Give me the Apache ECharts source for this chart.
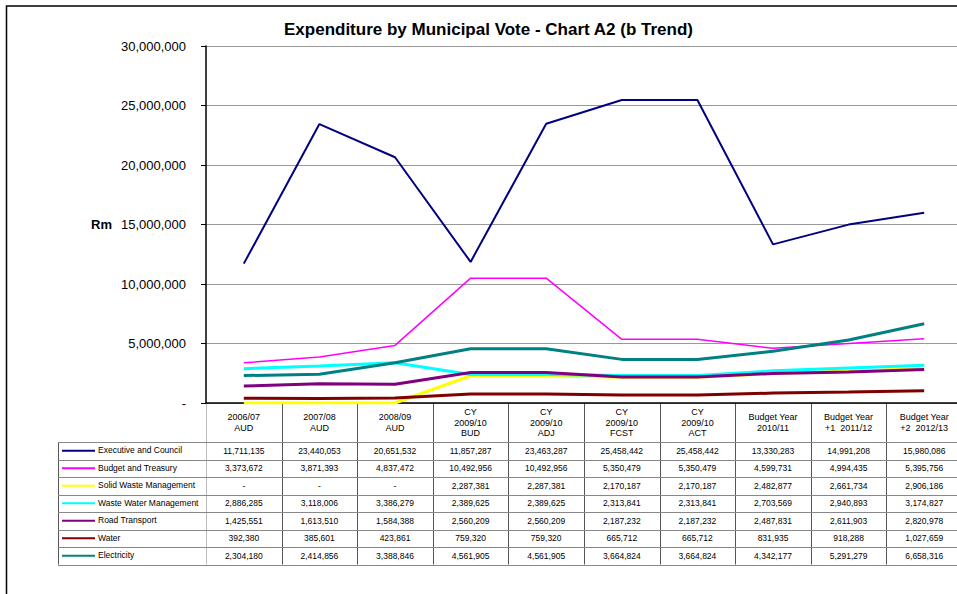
<!DOCTYPE html>
<html>
<head>
<meta charset="utf-8">
<title>Expenditure by Municipal Vote - Chart A2 (b Trend)</title>
<script src="https://cdn.jsdelivr.net/npm/echarts@6.0.0/dist/echarts.min.js"></script>
<style>
  html, body { margin: 0; padding: 0; background: #fff; }
  #chart { width: 957px; height: 594px; }
</style>
</head>
<body>
<div id="chart"></div>
<script>
// categories (also the header row of the data table)
const categories = [
  '2006/07\nAUD', '2007/08\nAUD', '2008/09\nAUD',
  'CY\n2009/10\nBUD', 'CY\n2009/10\nADJ', 'CY\n2009/10\nFCST', 'CY\n2009/10\nACT',
  'Budget Year\n2010/11', 'Budget Year\n+1  2011/12', 'Budget Year\n+2  2012/13'
];

const seriesNames = [
  'Executive and Council', 'Budget and Treasury', 'Solid Waste Management',
  'Waste Water Management', 'Road Transport', 'Water', 'Electricity'
];

const executiveCouncil = [11711135, 23440053, 20651532, 11857287, 23463287, 25458442, 25458442, 13330283, 14991208, 15980086];
const budgetTreasury   = [3373672, 3871393, 4837472, 10492956, 10492956, 5350479, 5350479, 4599731, 4994435, 5395756];
const solidWaste       = [0, 0, 0, 2287381, 2287381, 2170187, 2170187, 2482877, 2661734, 2906186];
const wasteWater       = [2886285, 3118006, 3386279, 2389625, 2389625, 2313841, 2313841, 2703569, 2940893, 3174827];
const roadTransport    = [1425551, 1613510, 1584388, 2560209, 2560209, 2187232, 2187232, 2487831, 2611903, 2820978];
const water            = [392380, 385601, 423861, 759320, 759320, 665712, 665712, 831935, 918288, 1027659];
const electricity      = [2304180, 2414856, 3388846, 4561905, 4561905, 3664824, 3664824, 4342177, 5291279, 6658316];

const allValues = [executiveCouncil, budgetTreasury, solidWaste, wasteWater, roadTransport, water, electricity];

// y axis ticks
const yMin = 0, yMax = 30000000, yStep = 5000000;

const colors = ['#000080', '#FF00FF', '#FFFF00', '#00FFFF', '#800080', '#800000', '#008080'];
const widths = [2, 1.5, 3, 3, 3, 3, 3];
const FONT = 'Liberation Sans, Arial, sans-serif';

function fmt(n) {
  if (n === 0) return '-';
  return String(n).replace(/\B(?=(\d{3})+(?!\d))/g, ',');
}

const chart = echarts.init(document.getElementById('chart'), null, { renderer: 'svg' });

chart.setOption({
  animation: false,
  backgroundColor: '#fff',
  title: {
    text: 'Expenditure by Municipal Vote - Chart A2 (b Trend)',
    left: 284,
    top: 20.5,
    padding: 0,
    textStyle: { fontFamily: FONT, fontSize: 17, fontWeight: 'bold', color: '#000' }
  },
  grid: {
    left: 206, top: 46, width: 756, height: 357,
    containLabel: false,
    outerBoundsMode: 'none'
  },
  xAxis: {
    type: 'category',
    data: categories,
    boundaryGap: true,
    axisLine: { show: true, lineStyle: { color: '#000', width: 1.5 } },
    axisTick: { show: false },
    splitLine: { show: false },
    axisLabel: {
      interval: 0,
      margin: 19.5,
      verticalAlign: 'middle',
      fontFamily: FONT,
      fontSize: 9,
      lineHeight: 10.5,
      color: '#000'
    }
  },
  yAxis: {
    type: 'value',
    min: yMin, max: yMax, interval: yStep,
    name: 'Rm',
    nameLocation: 'middle',
    nameRotate: 0,
    nameGap: 94,
    nameTextStyle: { fontFamily: FONT, fontSize: 13, fontWeight: 'bold', color: '#000' },
    axisLine: { show: true, lineStyle: { color: '#000', width: 1.5 } },
    axisTick: { show: true, length: 5, lineStyle: { color: '#000' } },
    splitLine: { show: true, lineStyle: { color: '#999', width: 1 } },
    axisLabel: {
      margin: 20,
      fontFamily: FONT,
      fontSize: 13,
      color: '#000',
      formatter: v => fmt(v)
    }
  },
  series: seriesNames.map((name, i) => ({
    name: name,
    type: 'line',
    data: allValues[i],
    symbol: 'none',
    color: colors[i],
    lineStyle: { color: colors[i], width: widths[i] },
    emphasis: { disabled: true }
  }))
});

// data table under the plot, columns taken from the x axis scale
function buildTable() {
  const centers = categories.map((c, i) => chart.convertToPixel({ xAxisIndex: 0 }, i));
  const band = centers[1] - centers[0];
  const top = chart.convertToPixel({ yAxisIndex: 0 }, 0);
  const headH = 39, rowH = 17.5;
  const bodyTop = top + headH;
  const bodyBottom = bodyTop + rowH * seriesNames.length;
  const tableLeft = 58;
  const tableRight = centers[centers.length - 1] + band / 2;
  const els = [];

  // outer frame of the chart area
  els.push({ type: 'rect', silent: true, shape: { x: 6.5, y: 6, width: 1400, height: 1400 },
    style: { fill: 'none', stroke: '#000', lineWidth: 1.5 } });

  // vertical column lines
  for (let i = 0; i <= categories.length; i++) {
    const x = Math.round(centers[0] - band / 2 + band * i) + 0.5;
    els.push({ type: 'line', silent: true, shape: { x1: x, y1: top, x2: x, y2: bodyBottom },
      style: { stroke: i === 0 ? '#bbb' : '#555', lineWidth: 1 } });
  }
  // left border of the legend column
  els.push({ type: 'line', silent: true, shape: { x1: tableLeft + 0.5, y1: bodyTop, x2: tableLeft + 0.5, y2: bodyBottom },
    style: { stroke: '#555', lineWidth: 1 } });
  // horizontal row lines
  for (let r = 0; r <= seriesNames.length; r++) {
    const y = Math.round(bodyTop + rowH * r) + 0.5;
    els.push({ type: 'line', silent: true, shape: { x1: tableLeft, y1: y, x2: tableRight, y2: y },
      style: { stroke: '#888', lineWidth: 1 } });
  }
  // rows: legend key, name, values
  seriesNames.forEach((name, r) => {
    const cy = bodyTop + rowH * r + rowH / 2;
    els.push({ type: 'line', silent: true, shape: { x1: 62, y1: cy, x2: 95, y2: cy },
      style: { stroke: colors[r], lineWidth: 2 } });
    els.push({ type: 'text', silent: true, x: 98, y: cy - 0.5,
      style: { text: name, fill: '#000', fontFamily: FONT, fontSize: 8.5,
        align: 'left', verticalAlign: 'middle', textAlign: 'left', textVerticalAlign: 'middle' } });
    allValues[r].forEach((v, c) => {
      els.push({ type: 'text', silent: true, x: centers[c], y: cy,
        style: { text: fmt(v), fill: '#000', fontFamily: FONT, fontSize: 8.5,
          align: 'center', verticalAlign: 'middle', textAlign: 'center', textVerticalAlign: 'middle' } });
    });
  });
  chart.setOption({ graphic: { elements: els } });
}
buildTable();
</script>
</body>
</html>
